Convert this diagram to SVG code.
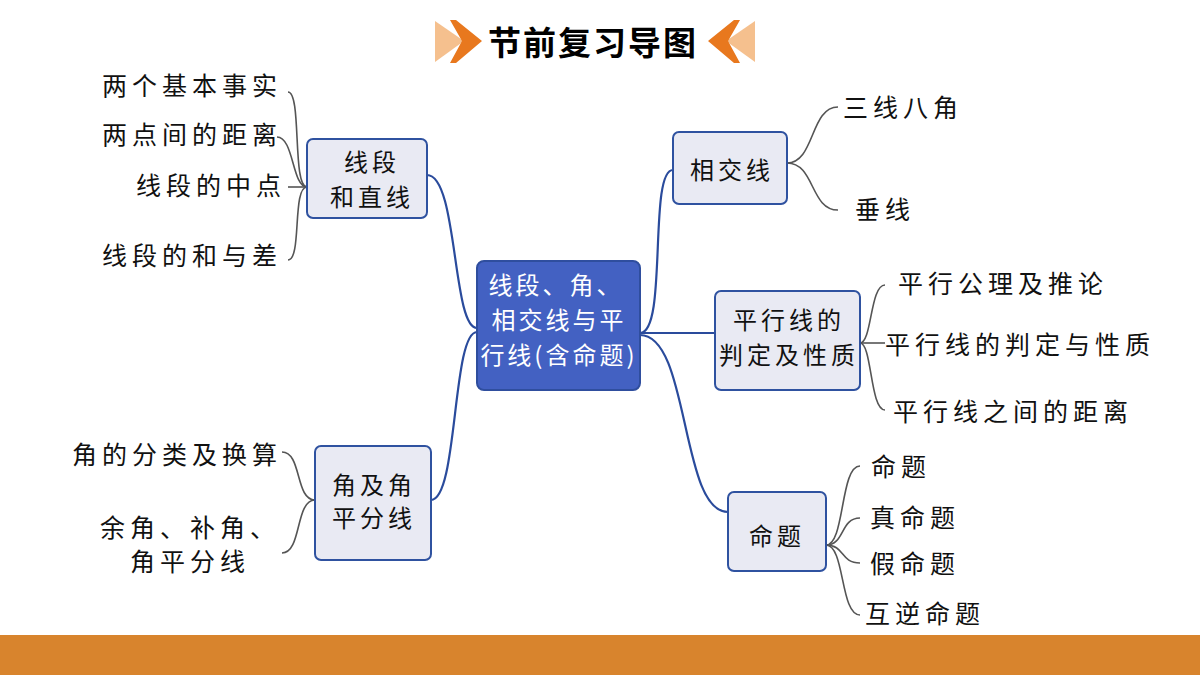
<svg xmlns="http://www.w3.org/2000/svg" width="1200" height="675" viewBox="0 0 1200 675">
<style>
.t{font-family:"Noto Sans CJK SC","Noto Sans",sans-serif;font-size:25px;fill:#111;letter-spacing:5px;dominant-baseline:central}
.bt{font-family:"Noto Sans CJK SC","Noto Sans",sans-serif;font-size:24px;fill:#111;letter-spacing:4px;text-anchor:middle;dominant-baseline:central}
.ct{font-family:"Noto Sans CJK SC","Noto Sans",sans-serif;font-size:24px;fill:#fff;letter-spacing:3px;text-anchor:middle;dominant-baseline:central}
.box{fill:#E9EAF3;stroke:#2F52A0;stroke-width:2}
.main{stroke:#2A4B9C;stroke-width:2.2;fill:none}
.sub{stroke:#555;stroke-width:1.6;fill:none}
</style>
<rect width="1200" height="675" fill="#fff"/>
<rect x="0" y="635" width="1200" height="40" fill="#D8842D"/>
<g id="title">
<polygon points="435,21 464,41 435,62" fill="#F5C08E"/>
<polygon points="450,20 456,20 482,41 456,63 450,63 462,41" fill="#E8781E"/>
<polygon points="755,21 726,41 755,62" fill="#F5C08E"/>
<polygon points="740,20 734,20 708,41 734,63 740,63 728,41" fill="#E8781E"/>
<text x="593" y="41" font-family="'Noto Sans CJK SC',sans-serif" font-size="33" font-weight="bold" fill="#000" text-anchor="middle" dominant-baseline="central" letter-spacing="2">节前复习导图</text>
</g>
<g id="connectors">
<path class="main" d="M477,328 C452,328 458,175 427,175"/>
<path class="main" d="M477,332 C452,332 458,500 431,500"/>
<path class="main" d="M640,333 C668,333 648,170 673,170"/>
<path class="main" d="M640,333 L715,333"/>
<path class="main" d="M640,335 C690,335 680,512 728,512"/>
<path class="sub" d="M307,187 C292,187 302,92 288,92"/>
<path class="sub" d="M307,187 C292,187 294,137 277,137"/>
<path class="sub" d="M307,187 L288,187"/>
<path class="sub" d="M307,187 C292,187 302,260 288,260"/>
<path class="sub" d="M315,500 C295,500 302,452 282,452"/>
<path class="sub" d="M315,500 C295,500 302,553 282,553"/>
<path class="sub" d="M787,163 C815,163 810,107 838,107"/>
<path class="sub" d="M787,163 C815,163 810,210 838,210"/>
<path class="sub" d="M860,343 C872,343 870,285 885,285"/>
<path class="sub" d="M860,343 L885,343"/>
<path class="sub" d="M860,343 C872,343 870,410 885,410"/>
<path class="sub" d="M826,545 C845,545 840,466 860,466"/>
<path class="sub" d="M826,545 C845,545 840,518 860,518"/>
<path class="sub" d="M826,545 C845,545 840,563 860,563"/>
<path class="sub" d="M826,545 C845,545 840,615 860,615"/>
</g>
<g id="center">
<rect x="477" y="261" width="163" height="129" rx="7" fill="#4361C2" stroke="#2F4E9E" stroke-width="2"/>
<text class="ct" x="556" y="283" letter-spacing="4">线段、角、</text>
<text class="ct" x="559" y="318" letter-spacing="4">相交线与平</text>
<text class="ct" x="559" y="353" letter-spacing="1">行线(含命题)</text>
</g>
<g id="n-xianduan">
<rect class="box" x="307" y="139" width="120" height="79" rx="6"/>
<text class="bt" x="372" y="160">线段</text>
<text class="bt" x="372" y="195">和直线</text>
</g>
<g id="n-jiao">
<rect class="box" x="315" y="446" width="116" height="114" rx="6"/>
<text class="bt" x="374" y="483">角及角</text>
<text class="bt" x="374" y="516">平分线</text>
</g>
<g id="n-xiangjiao">
<rect class="box" x="673" y="132" width="114" height="72" rx="6"/>
<text class="bt" x="732" y="168">相交线</text>
</g>
<g id="n-pingxing">
<rect class="box" x="715" y="291" width="145" height="99" rx="6"/>
<text class="bt" x="789" y="318">平行线的</text>
<text class="bt" x="789" y="353">判定及性质</text>
</g>
<g id="n-mingti">
<rect class="box" x="728" y="492" width="98" height="79" rx="6"/>
<text class="bt" x="777" y="534">命题</text>
</g>
<g id="leaves">
<text class="t" x="102" y="84">两个基本事实</text>
<text class="t" x="102" y="133">两点间的距离</text>
<text class="t" x="136" y="184">线段的中点</text>
<text class="t" x="102" y="254">线段的和与差</text>
<text class="t" x="72" y="453">角的分类及换算</text>
<text class="t" x="100" y="526">余角、补角、</text>
<text class="t" x="130" y="560">角平分线</text>
<text class="t" x="843" y="106">三线八角</text>
<text class="t" x="855" y="208">垂线</text>
<text class="t" x="898" y="282">平行公理及推论</text>
<text class="t" x="885" y="343">平行线的判定与性质</text>
<text class="t" x="893" y="410">平行线之间的距离</text>
<text class="t" x="871" y="465">命题</text>
<text class="t" x="870" y="516">真命题</text>
<text class="t" x="870" y="562">假命题</text>
<text class="t" x="865" y="612">互逆命题</text>
</g>
</svg>
